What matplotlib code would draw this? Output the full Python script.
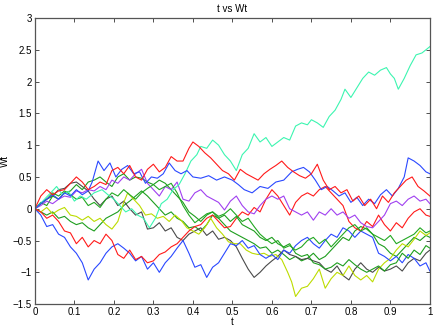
import matplotlib
matplotlib.use("Agg")
import matplotlib.pyplot as plt

# sample paths (t, Wt)
aqua_t = [0, 0.02, 0.04, 0.055, 0.07, 0.085, 0.1, 0.115, 0.13, 0.15, 0.17, 0.185, 0.2, 0.215, 0.23, 0.245, 0.26, 0.275, 0.29, 0.305,
          0.32, 0.335, 0.35, 0.365, 0.38, 0.395, 0.41, 0.42, 0.435, 0.45, 0.465, 0.48, 0.495, 0.51, 0.525, 0.54, 0.555, 0.57, 0.585, 0.6,
          0.615, 0.63, 0.645, 0.66, 0.675, 0.69, 0.7, 0.715, 0.73, 0.745, 0.76, 0.775, 0.785, 0.8, 0.815, 0.83, 0.845, 0.86, 0.875, 0.89,
          0.9, 0.91, 0.92, 0.935, 0.95, 0.965, 0.98, 1.0]
aqua_w = [0, 0.12, 0.25, 0.35, 0.22, 0.27, 0.12, 0.2, 0.15, 0.25, 0.3, 0.22, 0.15, 0.05, -0.05, 0.0, -0.1, -0.15, -0.3, -0.15,
          0.08, 0.15, 0.3, 0.38, 0.55, 0.75, 0.85, 0.98, 0.95, 1.08, 1.0, 0.85, 0.75, 0.6, 0.85, 0.95, 1.18, 1.05, 1.12, 0.98,
          1.05, 1.12, 1.08, 1.3, 1.35, 1.32, 1.4, 1.35, 1.28, 1.45, 1.55, 1.72, 1.88, 1.75, 1.9, 2.05, 2.15, 2.1, 2.18, 2.22,
          2.12, 2.05, 1.88, 2.05, 2.25, 2.42, 2.45, 2.55]

blue1_t = [0, 0.015, 0.03, 0.045, 0.06, 0.075, 0.09, 0.105, 0.12, 0.135, 0.145, 0.16, 0.175, 0.19, 0.205, 0.22, 0.235, 0.25, 0.265, 0.28,
           0.295, 0.31, 0.325, 0.34, 0.355, 0.37, 0.385, 0.4, 0.42, 0.44, 0.46, 0.48, 0.5, 0.515, 0.53, 0.55, 0.57, 0.59, 0.61, 0.63,
           0.65, 0.665, 0.68, 0.695, 0.71, 0.725, 0.74, 0.755, 0.77, 0.785, 0.8, 0.815, 0.83, 0.845, 0.86, 0.875, 0.89, 0.905, 0.92, 0.935,
           0.945, 0.96, 0.975, 0.99, 1.0]
blue1_w = [0, 0.08, 0.15, 0.22, 0.15, 0.25, 0.2, 0.3, 0.22, 0.28, 0.42, 0.75, 0.6, 0.72, 0.5, 0.62, 0.68, 0.55, 0.58, 0.4,
           0.5, 0.48, 0.55, 0.72, 0.6, 0.55, 0.6, 0.5, 0.48, 0.52, 0.45, 0.5, 0.45, 0.38, 0.3, 0.25, 0.35, 0.32, 0.42, 0.45,
           0.58, 0.62, 0.65, 0.58, 0.45, 0.3, 0.35, 0.28, 0.2, 0.25, 0.1, 0.18, 0.05, 0.15, 0.08, 0.22, 0.3, 0.2, 0.32, 0.5,
           0.8, 0.75, 0.68, 0.58, 0.55]

# most of the other paths were read at the same t steps
step_t = [0, 0.015, 0.03, 0.045, 0.06, 0.075, 0.09, 0.105, 0.12, 0.135, 0.15, 0.165, 0.18, 0.195, 0.21, 0.225, 0.24, 0.255, 0.27, 0.285,
          0.3, 0.315, 0.33, 0.345, 0.36, 0.375, 0.39, 0.405, 0.42, 0.435, 0.45, 0.465, 0.48, 0.495, 0.51, 0.525, 0.54, 0.555, 0.57, 0.585,
          0.6, 0.615, 0.63, 0.645, 0.66, 0.675, 0.69, 0.705, 0.72, 0.735, 0.75, 0.765, 0.78, 0.795, 0.81, 0.825, 0.84, 0.855, 0.87, 0.885,
          0.9, 0.915, 0.93, 0.945, 0.96, 0.975, 0.99, 1.0]

blue2_w = [0, -0.1, -0.28, -0.25, -0.4, -0.45, -0.6, -0.7, -0.85, -1.12, -0.95, -0.85, -0.7, -0.6, -0.55, -0.62, -0.7, -0.82, -0.75, -0.95,
           -0.85, -1.0, -0.85, -0.75, -0.62, -0.5, -0.7, -0.92, -0.88, -1.08, -0.92, -0.85, -0.7, -0.55, -0.58, -0.5, -0.62, -0.58, -0.72, -0.78,
           -0.72, -0.8, -0.65, -0.7, -0.58, -0.5, -0.45, -0.55, -0.62, -0.5, -0.4, -0.45, -0.3, -0.35, -0.45, -0.35, -0.4, -0.45, -0.7, -0.75,
           -0.82, -0.75, -0.85, -0.72, -0.78, -0.9, -0.85, -0.98]

red1_t = [0, 0.015, 0.03, 0.045, 0.06, 0.075, 0.09, 0.105, 0.12, 0.135, 0.15, 0.165, 0.18, 0.195, 0.21, 0.225, 0.24, 0.255, 0.27, 0.285,
          0.3, 0.315, 0.33, 0.345, 0.36, 0.375, 0.39, 0.4, 0.415, 0.43, 0.445, 0.46, 0.475, 0.49, 0.505, 0.52, 0.535, 0.55, 0.565, 0.58,
          0.595, 0.61, 0.625, 0.64, 0.655, 0.67, 0.685, 0.7, 0.715, 0.73, 0.745, 0.76, 0.775, 0.79, 0.805, 0.82, 0.835, 0.85, 0.865, 0.88,
          0.895, 0.91, 0.925, 0.94, 0.955, 0.97, 0.985, 1.0]
red1_w = [0, 0.2, 0.3, 0.22, 0.28, 0.3, 0.4, 0.5, 0.42, 0.3, 0.35, 0.42, 0.38, 0.6, 0.65, 0.55, 0.68, 0.5, 0.45, 0.62,
          0.7, 0.58, 0.65, 0.82, 0.75, 0.75, 0.95, 1.05, 0.98, 0.88, 0.8, 0.7, 0.6, 0.55, 0.45, 0.62, 0.55, 0.5, 0.45, 0.55,
          0.62, 0.68, 0.75, 0.65, 0.58, 0.52, 0.48, 0.55, 0.7, 0.45, 0.3, 0.35, 0.25, 0.3, 0.12, 0.2, 0.05, 0.15, 0.0, 0.2,
          0.1, 0.25, 0.35, 0.45, 0.5, 0.35, 0.28, 0.2]

red2_w = [0, -0.05, -0.15, -0.1, -0.2, -0.35, -0.38, -0.55, -0.45, -0.6, -0.5, -0.55, -0.4, -0.5, -0.72, -0.78, -0.65, -0.8, -0.75, -0.85,
          -0.82, -0.72, -0.68, -0.6, -0.55, -0.45, -0.35, -0.28, -0.25, -0.15, -0.1, -0.2, -0.3, -0.28, -0.15, -0.05, -0.1, 0.02, -0.05, 0.15,
          0.3, 0.2, 0.05, -0.1, 0.1, 0.2, 0.25, 0.2, 0.3, 0.35, 0.25, 0.15, 0.05, -0.2, -0.3, -0.35, -0.2, -0.28, -0.1, -0.25,
          -0.35, -0.22, -0.3, -0.15, -0.05, 0.0, -0.1, -0.12]

purple_w = [0, 0.05, 0.12, 0.08, 0.15, 0.2, 0.18, 0.28, 0.25, 0.3, 0.28, 0.35, 0.3, 0.45, 0.4, 0.5, 0.45, 0.55, 0.62, 0.4,
            0.3, 0.2, 0.35, 0.3, 0.42, 0.15, 0.12, 0.25, 0.3, 0.2, 0.15, 0.1, -0.02, 0.12, 0.2, 0.05, -0.05, -0.08, 0.05, 0.15,
            0.2, 0.15, 0.2, 0.0, -0.05, -0.1, -0.05, -0.18, -0.05, -0.1, 0.0, -0.1, -0.05, -0.15, -0.1, -0.22, -0.28, -0.3, -0.2, -0.1,
            0.08, 0.12, 0.05, 0.15, 0.2, 0.12, 0.15, 0.08]

gray_w = [0, 0.08, 0.15, 0.2, 0.3, 0.32, 0.4, 0.42, 0.35, 0.28, 0.15, 0.05, 0.15, 0.2, 0.05, 0.12, 0.0, -0.1, -0.05, -0.32,
          -0.3, -0.22, -0.35, -0.3, -0.45, -0.5, -0.4, -0.35, -0.3, -0.42, -0.35, -0.48, -0.45, -0.5, -0.6, -0.78, -0.95, -1.08, -1.0, -0.9,
          -0.82, -0.75, -0.65, -0.72, -0.75, -0.8, -0.78, -0.82, -0.85, -0.95, -1.0, -0.9, -1.05, -1.12, -0.95, -0.85, -0.95, -1.0, -0.92, -0.98,
          -0.95, -0.9, -0.98, -0.85, -0.78, -0.82, -0.7, -0.65]

ygreen_t = [0, 0.015, 0.03, 0.045, 0.06, 0.075, 0.09, 0.105, 0.12, 0.135, 0.15, 0.165, 0.18, 0.195, 0.21, 0.225, 0.235, 0.25, 0.265, 0.28,
            0.295, 0.31, 0.325, 0.34, 0.355, 0.37, 0.385, 0.4, 0.415, 0.43, 0.445, 0.46, 0.475, 0.49, 0.505, 0.52, 0.535, 0.55, 0.565, 0.58,
            0.595, 0.61, 0.625, 0.64, 0.65, 0.66, 0.675, 0.69, 0.705, 0.72, 0.735, 0.75, 0.765, 0.78, 0.795, 0.81, 0.825, 0.84, 0.855, 0.87,
            0.885, 0.9, 0.915, 0.93, 0.945, 0.96, 0.975, 0.99, 1.0]
ygreen_w = [0, -0.05, 0.02, -0.08, -0.02, 0.02, -0.1, -0.12, -0.18, -0.12, -0.2, -0.15, -0.25, -0.32, -0.2, 0.1, 0.25, 0.15, 0.05, -0.1,
            -0.08, -0.15, -0.12, -0.2, -0.1, -0.18, -0.3, -0.35, -0.4, -0.3, -0.15, -0.3, -0.4, -0.52, -0.55, -0.55, -0.65, -0.7, -0.72, -0.7,
            -0.75, -0.72, -0.8, -1.0, -1.15, -1.38, -1.25, -1.22, -1.1, -0.95, -1.25, -1.1, -1.0, -1.05, -0.9, -1.05, -1.12, -1.05, -1.15, -0.95,
            -0.85, -0.78, -0.65, -0.55, -0.6, -0.48, -0.35, -0.42, -0.38]

green1_w = [0, 0.1, 0.05, 0.2, 0.15, 0.25, 0.28, 0.38, 0.3, 0.42, 0.45, 0.5, 0.42, 0.35, 0.5, 0.55, 0.45, 0.5, 0.48, 0.42,
            0.38, 0.45, 0.4, 0.3, 0.2, 0.1, -0.05, -0.12, -0.2, -0.1, -0.05, -0.15, -0.1, -0.2, -0.12, -0.25, -0.3, -0.35, -0.45, -0.5,
            -0.45, -0.55, -0.6, -0.55, -0.7, -0.75, -0.72, -0.85, -0.88, -0.95, -0.92, -0.85, -0.9, -0.8, -0.88, -0.95, -1.0, -0.95, -0.9, -0.98,
            -0.88, -0.85, -0.7, -0.78, -0.65, -0.72, -0.58, -0.62]

green2_w = [0, 0.08, 0.15, 0.25, 0.2, 0.28, 0.22, 0.15, 0.18, 0.05, 0.1, 0.02, 0.15, 0.25, 0.2, 0.3, 0.22, 0.15, 0.25, 0.32,
            0.38, 0.3, 0.35, 0.4, 0.25, 0.05, -0.1, -0.22, -0.15, -0.08, -0.05, -0.12, -0.08, 0.0, -0.1, -0.2, -0.15, -0.28, -0.4, -0.48,
            -0.55, -0.5, -0.62, -0.58, -0.65, -0.6, -0.5, -0.45, -0.55, -0.48, -0.6, -0.5, -0.4, -0.3, -0.25, -0.35, -0.3, -0.4, -0.45, -0.5,
            -0.42, -0.55, -0.5, -0.45, -0.4, -0.3, -0.38, -0.35]

green3_w = [0, -0.05, -0.1, -0.05, -0.15, -0.12, -0.2, -0.25, -0.22, -0.3, -0.35, -0.25, -0.15, -0.1, -0.05, 0.05, 0.12, 0.2, 0.28, 0.2,
            0.1, 0.0, -0.1, -0.05, -0.15, -0.2, -0.3, -0.28, -0.35, -0.25, -0.1, -0.15, -0.25, -0.35, -0.4, -0.45, -0.5, -0.55, -0.62, -0.6,
            -0.7, -0.65, -0.72, -0.8, -0.75, -0.82, -0.78, -0.7, -0.8, -0.75, -0.65, -0.55, -0.45, -0.5, -0.35, -0.28, -0.32, -0.4, -0.55, -0.6,
            -0.7, -0.75, -0.65, -0.55, -0.45, -0.5, -0.42, -0.45]

# drawing order, last one on top
paths = [
    (step_t, green3_w, "#1e9e1e"),
    (step_t, gray_w, "#4a4a4a"),
    (ygreen_t, ygreen_w, "#bcdc00"),
    (step_t, blue2_w, "#2a48ff"),
    (step_t, red2_w, "#ff1a1a"),
    (step_t, green1_w, "#1e9e1e"),
    (step_t, purple_w, "#a040f0"),
    (step_t, green2_w, "#22a822"),
    (aqua_t, aqua_w, "#3cf5b0"),
    (blue1_t, blue1_w, "#2a48ff"),
    (red1_t, red1_w, "#ff1a1a"),
]

plt.rcParams['font.family'] = ['Liberation Sans', 'DejaVu Sans']
fig = plt.figure(figsize=(4.36, 3.27), dpi=100)
ax = fig.add_axes([0.080, 0.070, 0.906, 0.875])

for t, w, c in paths:
    ax.plot(t, w, color=c, lw=0.8)

ax.set_xlim(0, 1)
ax.set_ylim(-1.5, 3)
ax.set_xticks([0, 0.1, 0.2, 0.3, 0.4, 0.5, 0.6, 0.7, 0.8, 0.9, 1])
ax.set_xticklabels(["0", "0.1", "0.2", "0.3", "0.4", "0.5", "0.6", "0.7", "0.8", "0.9", "1"])
ax.set_yticks([-1.5, -1, -0.5, 0, 0.5, 1, 1.5, 2, 2.5, 3])
ax.set_yticklabels(["\u22121.5", "\u22121", "\u22120.5", "0", "0.5", "1", "1.5", "2", "2.5", "3"])
ax.tick_params(direction="in", length=3, width=0.6, labelsize=7, top=True, right=True, pad=2, colors="#333333")
ax.tick_params(labelcolor="black")
for s in ax.spines.values():
    s.set_color("#555555")
    s.set_linewidth(0.9)

ax.set_title("t vs Wt", fontsize=7, pad=4)
ax.set_xlabel("t", fontsize=7, labelpad=0)
ax.set_ylabel("Wt", fontsize=7)
ax.yaxis.set_label_coords(-0.063, 0.5)

fig.savefig("out.png", dpi=100)
